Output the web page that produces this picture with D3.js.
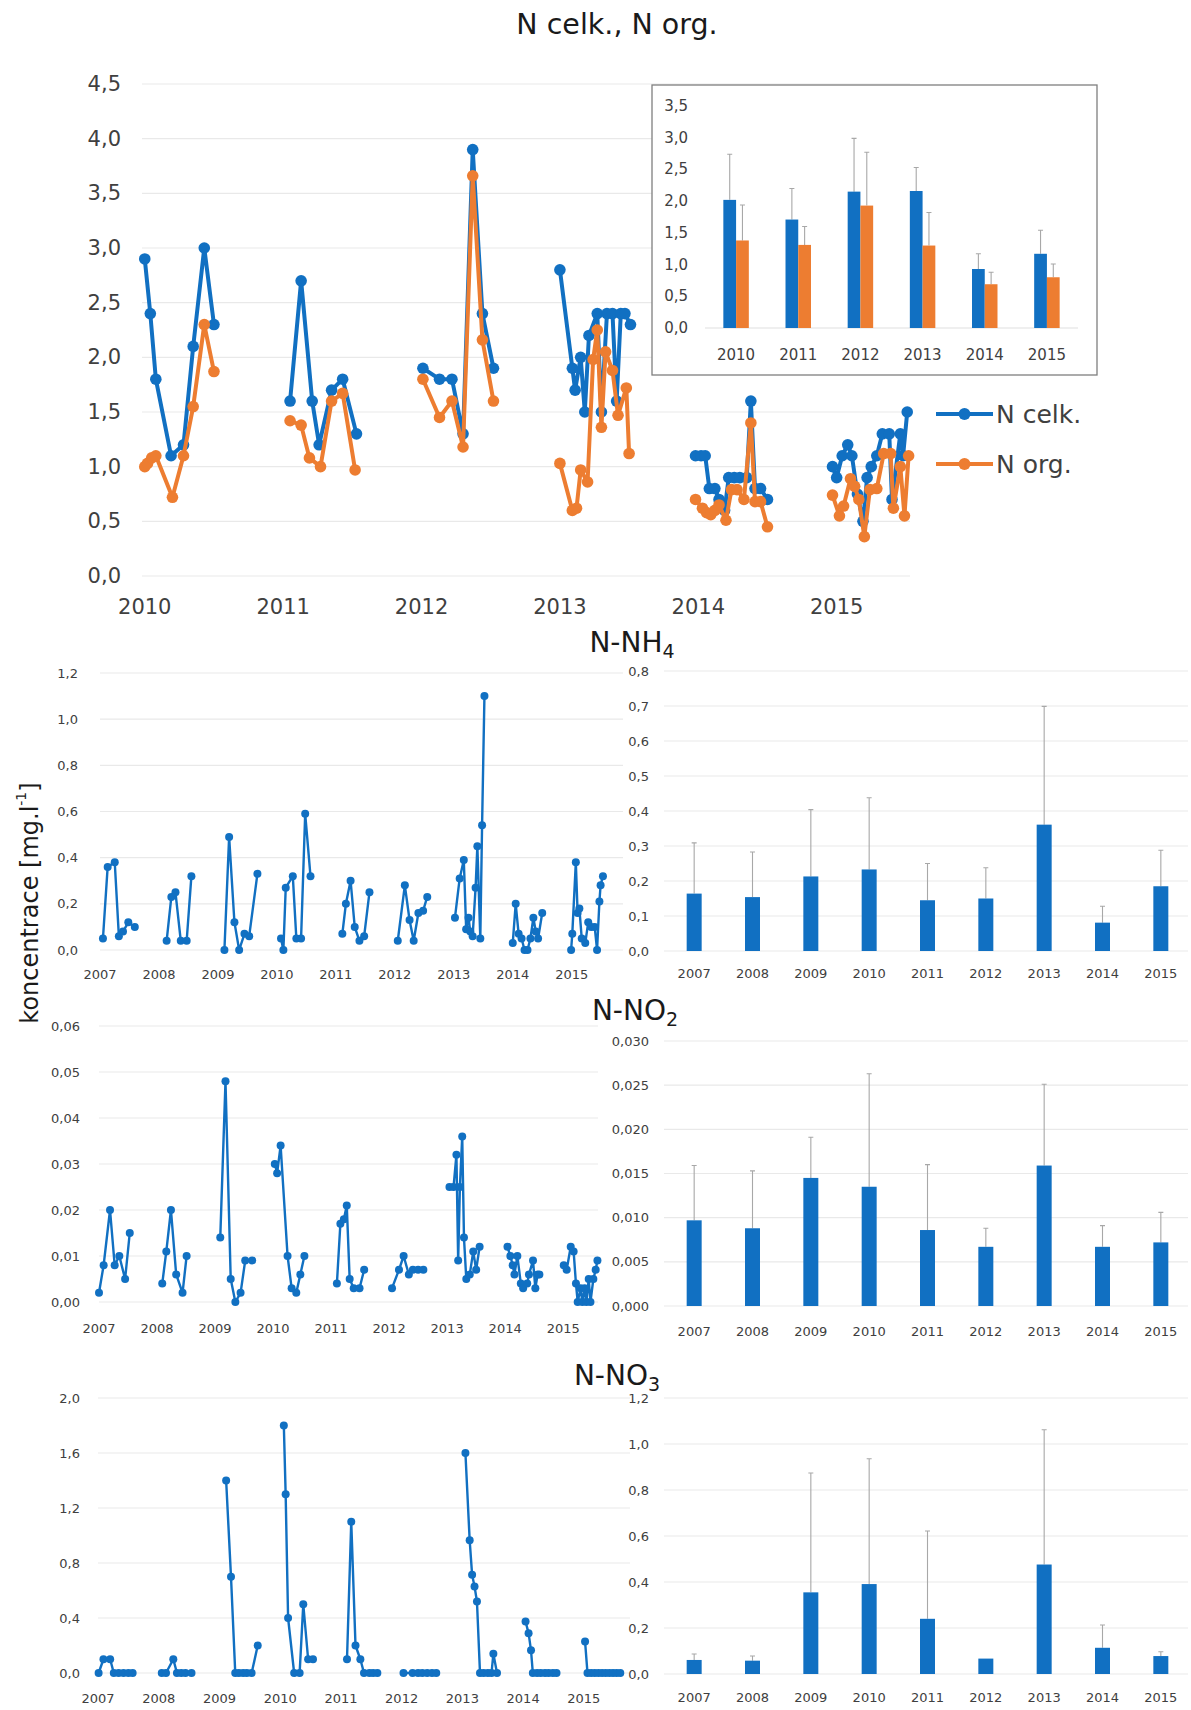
<!DOCTYPE html>
<html>
<head>
<meta charset="utf-8">
<script src="https://cdn.jsdelivr.net/npm/d3@7"></script>
<style>
  body { margin: 0; background: #fff; }
  svg text { font-family: "DejaVu Sans", sans-serif; }
</style>
</head>
<body>
<svg id="chart" width="1191" height="1710"></svg>
<script>
// ---------- N celk. / N org. sampling series (grouped by season) ----------
const celkDates = [
  [2010.0, 2010.04, 2010.08, 2010.19, 2010.28, 2010.35, 2010.43, 2010.5],
  [2011.05, 2011.13, 2011.21, 2011.26, 2011.35, 2011.43, 2011.53],
  [2012.01, 2012.13, 2012.22, 2012.30, 2012.37, 2012.44, 2012.52],
  [2013.0, 2013.09, 2013.11, 2013.15, 2013.18, 2013.21, 2013.27, 2013.30, 2013.34, 2013.38, 2013.41, 2013.44, 2013.47, 2013.51],
  [2013.98, 2014.02, 2014.05, 2014.08, 2014.12, 2014.15, 2014.19, 2014.22, 2014.26, 2014.30, 2014.35, 2014.38, 2014.41, 2014.45, 2014.5],
  [2014.97, 2015.0, 2015.04, 2015.08, 2015.11, 2015.15, 2015.19, 2015.22, 2015.25, 2015.29, 2015.33, 2015.38, 2015.40, 2015.46, 2015.48, 2015.51]
];
const celkValues = [
  [2.9, 2.4, 1.8, 1.1, 1.2, 2.1, 3.0, 2.3],
  [1.6, 2.7, 1.6, 1.2, 1.7, 1.8, 1.3],
  [1.9, 1.8, 1.8, 1.3, 3.9, 2.4, 1.9],
  [2.8, 1.9, 1.7, 2.0, 1.5, 2.2, 2.4, 1.5, 2.4, 2.4, 1.6, 2.4, 2.4, 2.3],
  [1.1, 1.1, 1.1, 0.8, 0.8, 0.7, 0.6, 0.9, 0.9, 0.9, 0.9, 1.6, 0.8, 0.8, 0.7],
  [1.0, 0.9, 1.1, 1.2, 1.1, 0.75, 0.5, 0.9, 1.0, 1.1, 1.3, 1.3, 0.7, 1.3, 1.1, 1.5]
];
const orgDates = [
  [2010.0, 2010.02, 2010.05, 2010.08, 2010.2, 2010.28, 2010.35, 2010.43, 2010.5],
  [2011.05, 2011.13, 2011.19, 2011.27, 2011.35, 2011.43, 2011.52],
  [2012.01, 2012.13, 2012.22, 2012.30, 2012.37, 2012.44, 2012.52],
  [2013.0, 2013.09, 2013.12, 2013.15, 2013.2, 2013.24, 2013.27, 2013.30, 2013.33, 2013.38, 2013.42, 2013.48, 2013.5],
  [2013.98, 2014.03, 2014.06, 2014.09, 2014.12, 2014.15, 2014.2, 2014.24, 2014.28, 2014.33, 2014.38, 2014.41, 2014.45, 2014.5],
  [2014.97, 2015.02, 2015.05, 2015.10, 2015.13, 2015.16, 2015.2, 2015.24, 2015.29, 2015.34, 2015.39, 2015.41, 2015.46, 2015.49, 2015.52]
];
const orgValues = [
  [1.0, 1.03, 1.08, 1.1, 0.72, 1.1, 1.55, 2.3, 1.87],
  [1.42, 1.38, 1.08, 1.0, 1.6, 1.67, 0.97],
  [1.8, 1.45, 1.6, 1.18, 3.66, 2.16, 1.6],
  [1.03, 0.6, 0.62, 0.97, 0.86, 1.98, 2.25, 1.36, 2.05, 1.88, 1.47, 1.72, 1.12],
  [0.7, 0.62, 0.58, 0.56, 0.6, 0.65, 0.51, 0.79, 0.79, 0.7, 1.4, 0.68, 0.68, 0.45],
  [0.74, 0.55, 0.64, 0.89, 0.82, 0.7, 0.36, 0.79, 0.8, 1.12, 1.12, 0.62, 1.0, 0.55, 1.1]
];

// yearly means with standard deviation (inset)
const insetYears = ["2010", "2011", "2012", "2013", "2014", "2015"];
const celkMean = [2.02, 1.71, 2.15, 2.16, 0.93, 1.17];
const celkSd   = [0.72, 0.49, 0.84, 0.37, 0.24, 0.37];
const orgMean  = [1.38, 1.31, 1.93, 1.30, 0.69, 0.80];
const orgSd    = [0.56, 0.29, 0.84, 0.52, 0.19, 0.21];
const topYearTicks = [2010, 2011, 2012, 2013, 2014, 2015];

// ---------- N-NH4 ----------
const nh4Dates = [
  [2007.05, 2007.13, 2007.25, 2007.32, 2007.39, 2007.48, 2007.59],
  [2008.13, 2008.21, 2008.28, 2008.37, 2008.47, 2008.55],
  [2009.11, 2009.19, 2009.28, 2009.36, 2009.45, 2009.53, 2009.67],
  [2010.07, 2010.11, 2010.15, 2010.27, 2010.33, 2010.41, 2010.48, 2010.57],
  [2011.11, 2011.17, 2011.25, 2011.32, 2011.40, 2011.48, 2011.57],
  [2012.05, 2012.17, 2012.25, 2012.32, 2012.40, 2012.48, 2012.55],
  [2013.02, 2013.10, 2013.17, 2013.21, 2013.25, 2013.28, 2013.32, 2013.37, 2013.40, 2013.45, 2013.48, 2013.52],
  [2014.0, 2014.05, 2014.10, 2014.15, 2014.2, 2014.25, 2014.30, 2014.35, 2014.39, 2014.43, 2014.5],
  [2014.99, 2015.01, 2015.07, 2015.10, 2015.13, 2015.17, 2015.23, 2015.28, 2015.33, 2015.39, 2015.43, 2015.47, 2015.49, 2015.53]
];
const nh4Values = [
  [0.05, 0.36, 0.38, 0.06, 0.08, 0.12, 0.10],
  [0.04, 0.23, 0.25, 0.04, 0.04, 0.32],
  [0.0, 0.49, 0.12, 0.0, 0.07, 0.06, 0.33],
  [0.05, 0.0, 0.27, 0.32, 0.05, 0.05, 0.59, 0.32],
  [0.07, 0.20, 0.30, 0.10, 0.04, 0.06, 0.25],
  [0.04, 0.28, 0.13, 0.04, 0.16, 0.17, 0.23],
  [0.14, 0.31, 0.39, 0.09, 0.14, 0.08, 0.06, 0.27, 0.45, 0.05, 0.54, 1.10],
  [0.03, 0.20, 0.07, 0.05, 0.0, 0.0, 0.05, 0.14, 0.08, 0.05, 0.16],
  [0.0, 0.07, 0.38, 0.16, 0.18, 0.05, 0.03, 0.12, 0.10, 0.10, 0.0, 0.21, 0.28, 0.32]
];
const nh4Mean = [0.164, 0.154, 0.213, 0.233, 0.145, 0.150, 0.361, 0.081, 0.185];
const nh4Sd   = [0.145, 0.129, 0.191, 0.205, 0.105, 0.088, 0.338, 0.047, 0.103];

// ---------- N-NO2 ----------
const no2Dates = [
  [2007.0, 2007.08, 2007.19, 2007.27, 2007.35, 2007.45, 2007.53],
  [2008.09, 2008.16, 2008.24, 2008.33, 2008.44, 2008.51],
  [2009.09, 2009.18, 2009.27, 2009.35, 2009.44, 2009.52, 2009.64],
  [2010.03, 2010.07, 2010.13, 2010.25, 2010.32, 2010.40, 2010.47, 2010.54],
  [2011.10, 2011.16, 2011.22, 2011.27, 2011.32, 2011.39, 2011.49, 2011.57],
  [2012.05, 2012.17, 2012.25, 2012.34, 2012.41, 2012.50, 2012.59],
  [2013.04, 2013.11, 2013.16, 2013.19, 2013.22, 2013.26, 2013.29, 2013.33, 2013.39, 2013.45, 2013.50, 2013.56],
  [2014.04, 2014.09, 2014.13, 2014.16, 2014.21, 2014.27, 2014.31, 2014.38, 2014.41, 2014.48, 2014.52, 2014.56, 2014.59],
  [2015.01, 2015.06, 2015.13, 2015.18, 2015.22, 2015.25, 2015.30, 2015.33, 2015.37, 2015.40, 2015.44, 2015.47, 2015.52, 2015.56, 2015.59]
];
const no2Values = [
  [0.002, 0.008, 0.020, 0.008, 0.010, 0.005, 0.015],
  [0.004, 0.011, 0.020, 0.006, 0.002, 0.010],
  [0.014, 0.048, 0.005, 0.000, 0.002, 0.009, 0.009],
  [0.030, 0.028, 0.034, 0.010, 0.003, 0.002, 0.006, 0.010],
  [0.004, 0.017, 0.018, 0.021, 0.005, 0.003, 0.003, 0.007],
  [0.003, 0.007, 0.010, 0.006, 0.007, 0.007, 0.007],
  [0.025, 0.025, 0.032, 0.009, 0.025, 0.036, 0.014, 0.005, 0.006, 0.011, 0.007, 0.012],
  [0.012, 0.010, 0.008, 0.006, 0.010, 0.004, 0.003, 0.004, 0.006, 0.009, 0.003, 0.006, 0.006],
  [0.008, 0.007, 0.012, 0.011, 0.004, 0.000, 0.003, 0.000, 0.003, 0.000, 0.005, 0.000, 0.005, 0.007, 0.009]
];
const no2Mean = [0.0097, 0.0088, 0.0145, 0.0135, 0.0086, 0.0067, 0.0159, 0.0067, 0.0072];
const no2Sd   = [0.0062, 0.0065, 0.0046, 0.0128, 0.0074, 0.0021, 0.0092, 0.0024, 0.0034];

// ---------- N-NO3 ----------
const no3Dates = [
  [2007.01, 2007.09, 2007.20, 2007.26, 2007.34, 2007.42, 2007.50, 2007.57],
  [2008.05, 2008.12, 2008.24, 2008.30, 2008.37, 2008.44, 2008.54],
  [2009.11, 2009.19, 2009.26, 2009.32, 2009.39, 2009.45, 2009.53, 2009.63],
  [2010.06, 2010.09, 2010.13, 2010.23, 2010.32, 2010.38, 2010.46, 2010.54],
  [2011.10, 2011.17, 2011.24, 2011.32, 2011.38, 2011.47, 2011.53, 2011.60],
  [2012.03, 2012.18, 2012.27, 2012.34, 2012.42, 2012.50, 2012.57],
  [2013.05, 2013.12, 2013.16, 2013.20, 2013.24, 2013.29, 2013.35, 2013.42, 2013.48, 2013.51, 2013.57],
  [2014.04, 2014.09, 2014.13, 2014.16, 2014.23, 2014.29, 2014.36, 2014.42, 2014.49, 2014.55],
  [2015.02, 2015.06, 2015.12, 2015.18, 2015.24, 2015.30, 2015.36, 2015.42, 2015.48, 2015.54, 2015.60]
];
const no3Values = [
  [0, 0.1, 0.1, 0, 0, 0, 0, 0],
  [0, 0, 0.1, 0, 0, 0, 0],
  [1.4, 0.7, 0, 0, 0, 0, 0, 0.2],
  [1.8, 1.3, 0.4, 0, 0, 0.5, 0.1, 0.1],
  [0.1, 1.1, 0.2, 0.1, 0, 0, 0, 0],
  [0, 0, 0, 0, 0, 0, 0],
  [1.6, 0.965, 0.715, 0.63, 0.52, 0, 0, 0, 0, 0.14, 0],
  [0.375, 0.29, 0.165, 0, 0, 0, 0, 0, 0, 0],
  [0.23, 0, 0, 0, 0, 0, 0, 0, 0, 0, 0]
];
const no3Mean = [0.061, 0.058, 0.355, 0.391, 0.240, 0.067, 0.476, 0.114, 0.078];
const no3Sd   = [0.026, 0.020, 0.519, 0.545, 0.382, 0.0, 0.586, 0.099, 0.019];

const years9 = ["2007", "2008", "2009", "2010", "2011", "2012", "2013", "2014", "2015"];
const yearTicks9 = [2007, 2008, 2009, 2010, 2011, 2012, 2013, 2014, 2015];

// ---------- drawing ----------
const BLUE = "#1170c2", ORANGE = "#ed7d31", GRID = "#e9e9e9", TXT = "#404040", ERR = "#a8a8a8";
const loc = d3.formatLocale({ decimal: ",", thousands: " ", grouping: [3], currency: ["", ""] });
const svg = d3.select("#chart");

function ticks(max, step) {
  const n = Math.round(max / step);
  return d3.range(n + 1).map(i => i * step);
}

function yGrid(g, y, tv, x0, x1, fmt, labelX, fs) {
  g.selectAll(null).data(tv).join("line")
    .attr("x1", x0).attr("x2", x1)
    .attr("y1", d => y(d)).attr("y2", d => y(d))
    .attr("stroke", GRID).attr("stroke-width", 1.2);
  g.selectAll(null).data(tv).join("text")
    .attr("x", labelX).attr("y", d => y(d))
    .attr("text-anchor", "end").attr("dominant-baseline", "central")
    .attr("font-size", fs).attr("fill", TXT)
    .text(d => fmt(d));
}

function seriesGroups(g, x, y, dates, values, color, lw, r) {
  const line = d3.line().x(d => x(d[0])).y(d => y(d[1]));
  dates.forEach((ds, i) => {
    const pts = ds.map((d, j) => [d, values[i][j]]);
    g.append("path").datum(pts)
      .attr("d", line).attr("fill", "none")
      .attr("stroke", color).attr("stroke-width", lw).attr("stroke-linejoin", "round");
    g.selectAll(null).data(pts).join("circle")
      .attr("cx", d => x(d[0])).attr("cy", d => y(d[1])).attr("r", r)
      .attr("fill", color);
  });
}

function linePanel(o) {
  const g = svg.append("g");
  const x = d3.scaleLinear().domain(o.xDomain).range(o.xRange);
  const y = d3.scaleLinear().domain([0, o.yMax]).range(o.yRange);
  yGrid(g, y, ticks(o.yMax, o.yStep), o.xRange[0], o.xRange[1], o.fmt, o.labelX, 13);
  g.selectAll(null).data(yearTicks9).join("text")
    .attr("x", d => x(d)).attr("y", o.xLabelY)
    .attr("text-anchor", "middle").attr("dominant-baseline", "central")
    .attr("font-size", 13).attr("fill", TXT)
    .text(d => String(d));
  seriesGroups(g, x, y, o.dates, o.values, BLUE, 2.4, 4);
}

function barPanel(o) {
  const g = svg.append("g");
  const x = d3.scaleBand().domain(years9).range([665, 1190]).paddingInner(0.743).paddingOuter(0.3715);
  const y = d3.scaleLinear().domain([0, o.yMax]).range(o.yRange);
  yGrid(g, y, ticks(o.yMax, o.yStep), 664, 1188, o.fmt, 649, 13);
  g.selectAll(null).data(years9).join("text")
    .attr("x", d => x(d) + x.bandwidth() / 2).attr("y", o.xLabelY)
    .attr("text-anchor", "middle").attr("dominant-baseline", "central")
    .attr("font-size", 13).attr("fill", TXT).text(d => d);
  const rows = years9.map((k, i) => ({ k, m: o.mean[i], s: o.sd[i] }));
  g.selectAll(null).data(rows.filter(d => d.s > 0)).join("path")
    .attr("d", d => {
      const cx = x(d.k) + x.bandwidth() / 2, yt = y(d.m + d.s);
      return `M${cx},${y(d.m)}V${yt}M${cx - 2.5},${yt}H${cx + 2.5}`;
    })
    .attr("stroke", ERR).attr("stroke-width", 1.1).attr("fill", "none");
  g.selectAll(null).data(rows).join("rect")
    .attr("x", d => x(d.k)).attr("width", x.bandwidth())
    .attr("y", d => y(d.m)).attr("height", d => y(0) - y(d.m))
    .attr("fill", BLUE);
}

function subTitle(text, sub, cx, baseline) {
  const t = svg.append("text").attr("x", cx).attr("y", baseline)
    .attr("text-anchor", "middle").attr("font-size", 28).attr("fill", "#1a1a1a");
  t.append("tspan").text(text);
  t.append("tspan").attr("font-size", 19).attr("dy", 6).text(sub);
}

// ---- title ----
svg.append("text").attr("x", 617).attr("y", 34).attr("text-anchor", "middle")
  .attr("font-size", 28.5).attr("fill", "#1a1a1a").text("N celk., N org.");

// ---- top line chart ----
{
  const g = svg.append("g");
  const x = d3.scaleLinear().domain([2009.98, 2015.53]).range([142, 910]);
  const y = d3.scaleLinear().domain([0, 4.5]).range([576, 84]);
  yGrid(g, y, ticks(4.5, 0.5), 142, 910, loc.format(".1f"), 121, 21);
  g.selectAll(null).data(topYearTicks).join("text")
    .attr("x", d => x(d)).attr("y", 607)
    .attr("text-anchor", "middle").attr("dominant-baseline", "central")
    .attr("font-size", 21).attr("fill", TXT).text(d => String(d));
  seriesGroups(g, x, y, celkDates, celkValues, BLUE, 4, 5.8);
  seriesGroups(g, x, y, orgDates, orgValues, ORANGE, 4, 5.8);

  // legend
  const leg = [{ name: "N celk.", c: BLUE, y: 414 }, { name: "N org.", c: ORANGE, y: 464 }];
  leg.forEach(l => {
    g.append("line").attr("x1", 936).attr("x2", 993).attr("y1", l.y).attr("y2", l.y)
      .attr("stroke", l.c).attr("stroke-width", 4);
    g.append("circle").attr("cx", 964.5).attr("cy", l.y).attr("r", 6).attr("fill", l.c);
    g.append("text").attr("x", 996).attr("y", l.y).attr("dominant-baseline", "central")
      .attr("font-size", 25).attr("fill", TXT).text(l.name);
  });
}

// ---- inset: yearly means ----
{
  const g = svg.append("g");
  g.append("rect").attr("x", 652).attr("y", 85).attr("width", 445).attr("height", 290)
    .attr("fill", "#fff").attr("stroke", "#7f7f7f").attr("stroke-width", 1.3);
  const x = d3.scaleBand().domain(insetYears).range([705, 1078]).paddingInner(0.59).paddingOuter(0.295);
  const y = d3.scaleLinear().domain([0, 3.5]).range([328, 106]);
  const fmt = loc.format(".1f");
  g.selectAll(null).data(ticks(3.5, 0.5)).join("text")
    .attr("x", 688).attr("y", d => y(d))
    .attr("text-anchor", "end").attr("dominant-baseline", "central")
    .attr("font-size", 15).attr("fill", TXT).text(d => fmt(d));
  g.append("line").attr("x1", 705).attr("x2", 1078).attr("y1", y(0)).attr("y2", y(0))
    .attr("stroke", "#e0e0e0").attr("stroke-width", 1.2);
  g.selectAll(null).data(insetYears).join("text")
    .attr("x", d => x(d) + x.bandwidth() / 2).attr("y", 355)
    .attr("text-anchor", "middle").attr("dominant-baseline", "central")
    .attr("font-size", 15).attr("fill", TXT).text(d => d);
  const bw = x.bandwidth() / 2;
  const series = [
    { mean: celkMean, sd: celkSd, c: BLUE, off: 0 },
    { mean: orgMean, sd: orgSd, c: ORANGE, off: bw }
  ];
  series.forEach(s => {
    const rows = insetYears.map((k, i) => ({ k, m: s.mean[i], sd: s.sd[i] }));
    g.selectAll(null).data(rows).join("path")
      .attr("d", d => {
        const cx = x(d.k) + s.off + bw / 2, yt = y(d.m + d.sd);
        return `M${cx},${y(d.m)}V${yt}M${cx - 2.5},${yt}H${cx + 2.5}`;
      })
      .attr("stroke", ERR).attr("stroke-width", 1.1).attr("fill", "none");
    g.selectAll(null).data(rows).join("rect")
      .attr("x", d => x(d.k) + s.off).attr("width", bw)
      .attr("y", d => y(d.m)).attr("height", d => y(0) - y(d.m))
      .attr("fill", s.c);
  });
}

// ---- lower panels ----
subTitle("N-NH", "4", 632, 652);
linePanel({ dates: nh4Dates, values: nh4Values, xDomain: [2007, 2015.87], xRange: [100, 623],
  yMax: 1.2, yStep: 0.2, yRange: [950, 673], fmt: loc.format(".1f"), labelX: 78, xLabelY: 974 });
barPanel({ mean: nh4Mean, sd: nh4Sd, yMax: 0.8, yStep: 0.1, yRange: [951, 671],
  fmt: loc.format(".1f"), xLabelY: 973 });

subTitle("N-NO", "2", 635, 1020);
linePanel({ dates: no2Dates, values: no2Values, xDomain: [2007, 2015.6], xRange: [99, 598],
  yMax: 0.06, yStep: 0.01, yRange: [1302, 1026], fmt: loc.format(".2f"), labelX: 80, xLabelY: 1328 });
barPanel({ mean: no2Mean, sd: no2Sd, yMax: 0.03, yStep: 0.005, yRange: [1306, 1041],
  fmt: loc.format(".3f"), xLabelY: 1331 });

subTitle("N-NO", "3", 617, 1385);
linePanel({ dates: no3Dates, values: no3Values, xDomain: [2007, 2015.76], xRange: [98, 630],
  yMax: 2.0, yStep: 0.4, yRange: [1673, 1398], fmt: loc.format(".1f"), labelX: 80, xLabelY: 1698 });
barPanel({ mean: no3Mean, sd: no3Sd, yMax: 1.2, yStep: 0.2, yRange: [1674, 1398],
  fmt: loc.format(".1f"), xLabelY: 1697 });

// ---- shared axis title ----
{
  const t = svg.append("text").attr("transform", "translate(30,903) rotate(-90)")
    .attr("text-anchor", "middle").attr("dominant-baseline", "central")
    .attr("font-size", 24).attr("fill", "#1a1a1a");
  t.append("tspan").text("koncentrace [mg.l");
  t.append("tspan").attr("font-size", 14).attr("dy", -9).text("-1");
  t.append("tspan").attr("dy", 9).text("]");
}
</script>
</body>
</html>
